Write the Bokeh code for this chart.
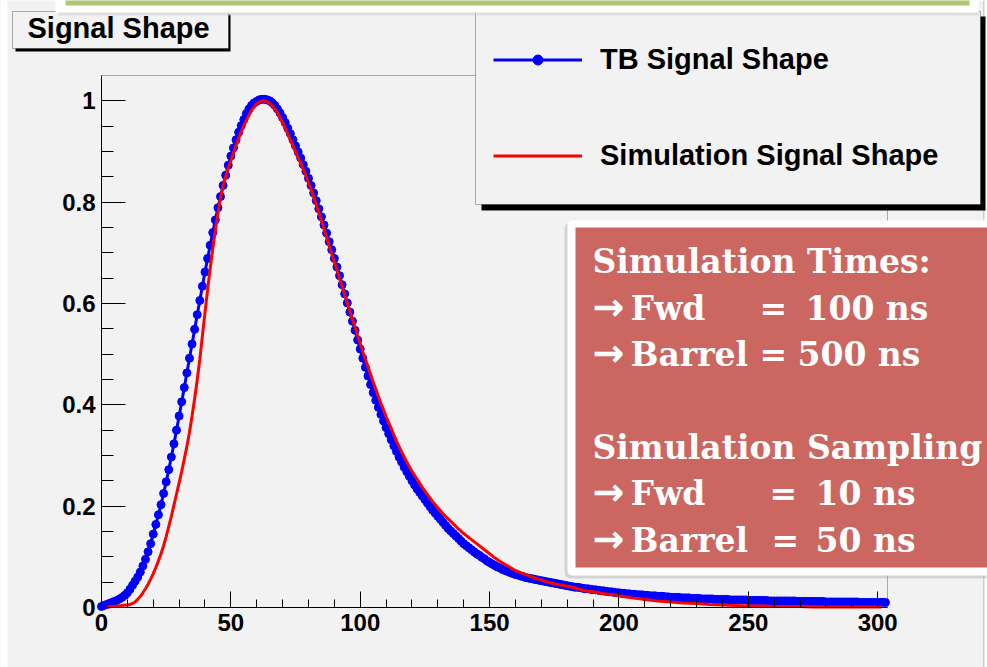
from bokeh.plotting import figure
from bokeh.models import (Range1d, FixedTicker, BoxAnnotation, Label, Legend,
                          LegendItem, ColumnDataSource, CustomJSTickFormatter)
from bokeh.embed import file_html
from bokeh.resources import INLINE

# ---------------- data ----------------
# TB signal shape: one sample per ns, t = 0 .. 303
tb_amp = [
    0.002, 0.004, 0.006, 0.008, 0.010, 0.012, 0.014, 0.017, 0.020, 0.024,
    0.029, 0.036, 0.044, 0.052, 0.060, 0.070, 0.082, 0.095, 0.110, 0.126,
    0.145, 0.164, 0.183, 0.203, 0.225, 0.248, 0.272, 0.297, 0.323, 0.350,
    0.378, 0.406, 0.434, 0.463, 0.492, 0.520, 0.549, 0.578, 0.606, 0.634,
    0.662, 0.689, 0.715, 0.740, 0.765, 0.789, 0.811, 0.833, 0.853, 0.873,
    0.891, 0.907, 0.923, 0.938, 0.951, 0.963, 0.975, 0.984, 0.991, 0.996,
    0.999, 1.002, 1.003, 1.003, 1.002, 1.000, 0.996, 0.991, 0.984, 0.976,
    0.967, 0.957, 0.946, 0.935, 0.923, 0.911, 0.899, 0.887, 0.874, 0.861,
    0.847, 0.833, 0.818, 0.803, 0.787, 0.771, 0.755, 0.739, 0.722, 0.706,
    0.689, 0.672, 0.655, 0.637, 0.619, 0.601, 0.583, 0.565, 0.547, 0.528,
    0.510, 0.492, 0.474, 0.457, 0.440, 0.424, 0.409, 0.395, 0.381, 0.368,
    0.355, 0.343, 0.331, 0.319, 0.308, 0.297, 0.287, 0.277, 0.268, 0.259,
    0.250, 0.242, 0.234, 0.227, 0.220, 0.213, 0.206, 0.199, 0.192, 0.186,
    0.180, 0.174, 0.168, 0.162, 0.156, 0.151, 0.146, 0.141, 0.136, 0.131,
    0.126, 0.122, 0.118, 0.114, 0.110, 0.106, 0.103, 0.099, 0.096, 0.092,
    0.089, 0.086, 0.083, 0.080, 0.078, 0.075, 0.073, 0.071, 0.069, 0.067,
    0.065, 0.064, 0.062, 0.061, 0.059, 0.058, 0.057, 0.056, 0.055, 0.054,
    0.053, 0.052, 0.051, 0.050, 0.049, 0.048, 0.047, 0.046, 0.045, 0.044,
    0.043, 0.042, 0.041, 0.040, 0.040, 0.039, 0.038, 0.037, 0.037, 0.036,
    0.035, 0.035, 0.034, 0.033, 0.033, 0.032, 0.031, 0.031, 0.030, 0.029,
    0.029, 0.028, 0.028, 0.027, 0.027, 0.026, 0.026, 0.025, 0.025, 0.025,
    0.024, 0.024, 0.023, 0.023, 0.023, 0.022, 0.022, 0.022, 0.021, 0.021,
    0.020, 0.020, 0.020, 0.020, 0.019, 0.019, 0.019, 0.019, 0.018, 0.018,
    0.018, 0.018, 0.017, 0.017, 0.017, 0.017, 0.017, 0.016, 0.016, 0.016,
    0.016, 0.016, 0.016, 0.015, 0.015, 0.015, 0.015, 0.015, 0.015, 0.015,
    0.014, 0.014, 0.014, 0.014, 0.014, 0.014, 0.014, 0.014, 0.013, 0.013,
    0.013, 0.013, 0.013, 0.013, 0.013, 0.013, 0.013, 0.013, 0.013, 0.012,
    0.012, 0.012, 0.012, 0.012, 0.012, 0.012, 0.012, 0.012, 0.012, 0.012,
    0.011, 0.011, 0.011, 0.011, 0.011, 0.011, 0.011, 0.011, 0.011, 0.011,
    0.011, 0.011, 0.011, 0.010, 0.010, 0.010, 0.010, 0.010, 0.010, 0.010,
    0.010, 0.010, 0.010, 0.010,
]
tb_time = list(range(len(tb_amp)))

# Simulation signal shape
sim_time = list(range(2, 120)) + list(range(120, 200, 2)) + list(range(200, 301, 5)) + [301.5]
sim_amp = [
    0.001, 0.001, 0.002, 0.002, 0.003, 0.003, 0.004, 0.005,
    0.005, 0.006, 0.008, 0.011, 0.016, 0.022, 0.029, 0.037, 0.046, 0.056,
    0.067, 0.079, 0.092, 0.106, 0.122, 0.140, 0.160, 0.180, 0.202, 0.224,
    0.246, 0.269, 0.293, 0.318, 0.346, 0.378, 0.412, 0.449, 0.490, 0.536,
    0.582, 0.627, 0.669, 0.708, 0.745, 0.778, 0.808, 0.832, 0.851, 0.867,
    0.882, 0.897, 0.912, 0.926, 0.939, 0.951, 0.962, 0.972, 0.981, 0.988,
    0.994, 0.998, 1.000, 1.000, 0.998, 0.995, 0.990, 0.984, 0.976, 0.967,
    0.957, 0.946, 0.935, 0.923, 0.911, 0.899, 0.888, 0.877, 0.865, 0.852,
    0.839, 0.825, 0.810, 0.795, 0.779, 0.763, 0.747, 0.731, 0.714, 0.698,
    0.682, 0.666, 0.649, 0.633, 0.617, 0.601, 0.585, 0.569, 0.553, 0.537,
    0.521, 0.505, 0.490, 0.475, 0.460, 0.445, 0.431, 0.417, 0.403, 0.390,
    0.377, 0.365, 0.353, 0.341, 0.329, 0.318, 0.307, 0.297, 0.287, 0.278,
    0.269, 0.253, 0.237, 0.223, 0.209, 0.197, 0.185, 0.175, 0.165, 0.155,
    0.146, 0.138, 0.130, 0.122, 0.114, 0.106, 0.098, 0.091, 0.085, 0.079,
    0.073, 0.069, 0.065, 0.061, 0.057, 0.054, 0.051, 0.048, 0.046, 0.044,
    0.042, 0.040, 0.037, 0.034, 0.032, 0.031, 0.029, 0.027, 0.026, 0.025,
    0.023, 0.019, 0.016, 0.013, 0.011, 0.009, 0.008, 0.006, 0.005, 0.004,
    0.003, 0.003, 0.002, 0.002, 0.002, 0.001, 0.001, 0.001, 0.001, 0.001,
    0.001,
    0.001,
]

x_ticks = [0, 50, 100, 150, 200, 250, 300]
x_tick_labels = ["0", "50", "100", "150", "200", "250", "300"]
y_ticks = [0, 0.2, 0.4, 0.6, 0.8, 1.0]
y_tick_labels = ["0", "0.2", "0.4", "0.6", "0.8", "1"]
x_axis_max = 303.8
y_axis_max = 1.05

title_text = "Signal Shape"
legend_labels = ["TB Signal Shape", "Simulation Signal Shape"]
arrow = "\u2192"
box_lines = [
    [("Simulation Times:", 592)],
    [(arrow, 592), ("Fwd", 630), ("=", 759), ("100 ns", 805)],
    [(arrow, 592), ("Barrel", 630), ("=", 759), ("500 ns", 797)],
    [],
    [("Simulation Sampling", 592)],
    [(arrow, 592), ("Fwd", 630), ("=", 769), ("10 ns", 815)],
    [(arrow, 592), ("Barrel", 630), ("=", 771), ("50 ns", 815)],
]

# ---------------- layout (page pixels) ----------------
W, H = 987, 667
FL, FR, FT, FB = 101, 887, 75, 607      # ROOT frame edges
BG = "#f2f2f2"
kx = (FR - FL) / x_axis_max
ky = (FB - FT) / y_axis_max


def sx(px):
    return px


def sy(py):
    return H - py


p = figure(width=W, height=H,
           x_range=Range1d(-FL / kx, (W - FL) / kx),
           y_range=Range1d(-(H - FB) / ky, FB / ky),
           output_backend="svg", toolbar_location=None,
           min_border=0, min_border_left=0, min_border_right=0,
           min_border_top=0, min_border_bottom=0,
           background_fill_color=BG, border_fill_color=BG,
           outline_line_color=None)
p.xgrid.visible = False
p.ygrid.visible = False

src = ColumnDataSource(dict(t=tb_time, a=tb_amp))
bl = p.line("t", "a", source=src, line_color="blue", line_width=3)
bs = p.scatter("t", "a", source=src, marker="circle", size=8,
               fill_color="blue", line_color="blue")
rl = p.line(sim_time, sim_amp, line_color="red", line_width=3)

for ax in (p.xaxis[0], p.yaxis[0]):
    ax.fixed_location = 0
    ax.axis_line_color = "black"
    ax.major_tick_line_color = "black"
    ax.minor_tick_line_color = "black"
    ax.major_tick_out = 0
    ax.minor_tick_out = 0
    ax.major_label_text_font = "Liberation Sans"
    ax.major_label_text_font_style = "bold"
    ax.major_label_text_font_size = "24px"
    ax.major_label_text_color = "black"

JS_FMT = "const i = tv.indexOf(tick); return i >= 0 ? tl[i] : String(tick);"

p.xaxis.bounds = (0, x_axis_max)
p.xaxis.ticker = FixedTicker(ticks=x_ticks, minor_ticks=list(range(0, 301, 10)))
p.xaxis.formatter = CustomJSTickFormatter(args=dict(tv=x_ticks, tl=x_tick_labels), code=JS_FMT)
p.xaxis.major_tick_in = 16
p.xaxis.minor_tick_in = 8
p.xaxis.major_label_standoff = 6

p.yaxis.bounds = (0, y_axis_max)
p.yaxis.ticker = FixedTicker(ticks=y_ticks, minor_ticks=[i * 0.05 for i in range(21)])
p.yaxis.formatter = CustomJSTickFormatter(args=dict(tv=y_ticks, tl=y_tick_labels), code=JS_FMT)
p.yaxis.major_tick_in = 24
p.yaxis.minor_tick_in = 12
p.yaxis.major_label_standoff = 6


def box(l, r, t, b, **kw):
    ba = BoxAnnotation(left=sx(l), right=sx(r), top=sy(t), bottom=sy(b),
                       left_units="screen", right_units="screen",
                       top_units="screen", bottom_units="screen", **kw)
    p.add_layout(ba)
    return ba


def label(txt, px, baseline, font, style, size_px, color):
    # the label anchor sits ~0.31 em under the glyph baseline
    p.add_layout(Label(x=sx(px), y=sy(baseline - 0.31 * size_px),
                       x_units="screen", y_units="screen",
                       text=txt, text_font=font, text_font_style=style,
                       text_font_size=f"{size_px}px", text_color=color,
                       text_baseline="alphabetic"))


# page edges of the screenshot
box(0, 7, 0, H, fill_color="white", fill_alpha=1, line_color=None)
box(983, 984, 0, H, fill_color="#a8a8a8", fill_alpha=1, line_color=None)
box(984, W + 5, 0, H, fill_color="white", fill_alpha=1, line_color=None)

# ROOT frame
p.add_layout(BoxAnnotation(left=0, right=x_axis_max, bottom=0, top=y_axis_max,
                           fill_alpha=0, line_color="black", line_width=1))

# title pave
box(15, 230, 14, 51, fill_color="black", fill_alpha=1, line_color=None)
box(12, 228, 11, 48, fill_color=BG, fill_alpha=1, line_color="black", line_width=1)
label(title_text, 27, 36.7, "Liberation Sans", "bold", 29, "black")

# legend pave
box(481, 985, 16, 210, fill_color="black", fill_alpha=1, line_color=None)
box(475, 980, 11, 204, fill_color=BG, fill_alpha=1, line_color="black", line_width=1)
legend = Legend(items=[LegendItem(label=legend_labels[0], renderers=[bl, bs]),
                       LegendItem(label=legend_labels[1], renderers=[rl])],
                location=(sx(493), sy(179)), orientation="vertical",
                glyph_width=89, glyph_height=25, label_height=48,
                label_standoff=18, spacing=48, padding=0, margin=0,
                border_line_color=None, background_fill_alpha=0,
                label_text_font="Liberation Sans", label_text_font_style="bold",
                label_text_font_size="29px", label_text_color="black")
p.add_layout(legend)

# overlay bar at the top of the slide
box(55, 978, -5, 12, fill_color="white", fill_alpha=1, line_color=None)
box(58, 978, 12, 15, fill_color="#cccccc", fill_alpha=0.5, line_color=None)
box(65, 969, -5, 5, fill_color="#afc672", fill_alpha=1, line_color=None)

# red text box
box(564, 1010, 222, 578, fill_color="#9a9a9a", fill_alpha=0.35, line_color=None,
    border_radius=6)
box(567, 1010, 220, 575, fill_color="white", fill_alpha=1, line_color=None,
    border_radius=5)
box(575, 1010, 227, 567, fill_color="#cc6660", fill_alpha=1, line_color=None)

base0, step = 271.7, 46.4
for i, parts in enumerate(box_lines):
    for txt, px in parts:
        if txt == arrow:
            label(txt, px, base0 + i * step, "DejaVu Sans", "bold", 38, "white")
        else:
            label(txt, px, base0 + i * step, "DejaVu Serif", "bold", 33, "white")

open("out.html", "w").write(file_html(p, INLINE))
